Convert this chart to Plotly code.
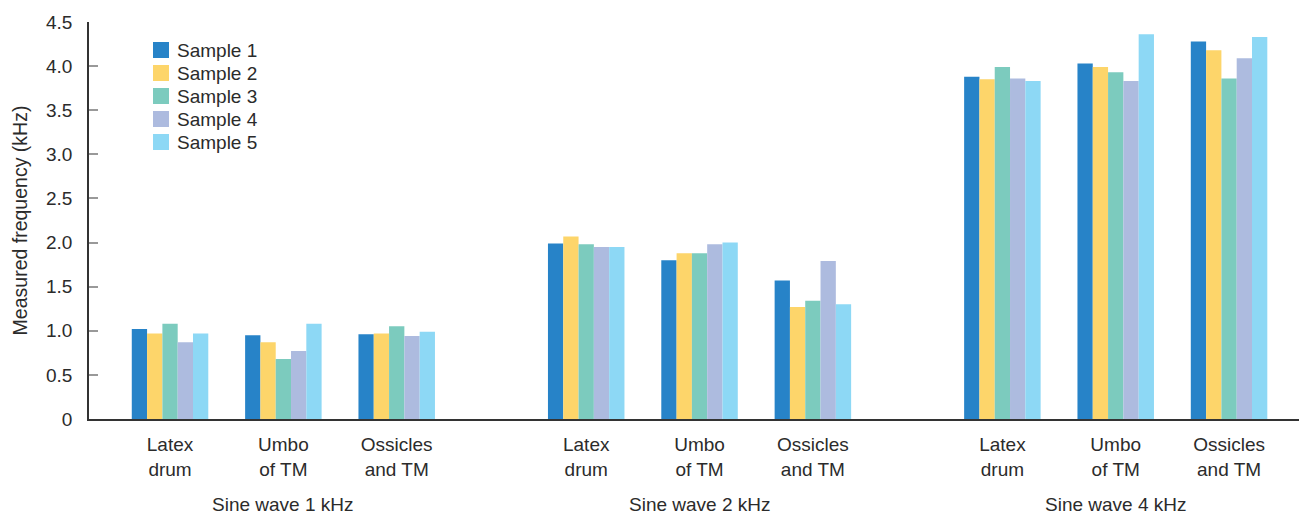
import plotly.graph_objects as go

clusters = ["Latex<br>drum", "Umbo<br>of TM", "Ossicles<br>and TM"] * 3
groups = ["Sine wave 1 kHz", "Sine wave 2 kHz", "Sine wave 4 kHz"]
positions = [0, 1, 2, 3.672, 4.672, 5.672, 7.344, 8.344, 9.344]

series_names = ["Sample 1", "Sample 2", "Sample 3", "Sample 4", "Sample 5"]
sample1 = [1.02, 0.95, 0.96, 1.99, 1.80, 1.57, 3.88, 4.03, 4.28]
sample2 = [0.97, 0.87, 0.97, 2.07, 1.88, 1.27, 3.85, 3.99, 4.18]
sample3 = [1.08, 0.68, 1.05, 1.98, 1.88, 1.34, 3.99, 3.93, 3.86]
sample4 = [0.87, 0.77, 0.94, 1.95, 1.98, 1.79, 3.86, 3.83, 4.09]
sample5 = [0.97, 1.08, 0.99, 1.95, 2.00, 1.30, 3.83, 4.36, 4.33]
colors = ["#2783C8", "#FDD56A", "#7CCBBE", "#ADBBDF", "#8DD8F5"]

y_ticks = [0, 0.5, 1.0, 1.5, 2.0, 2.5, 3.0, 3.5, 4.0, 4.5]
y_ticktext = ["0", "0.5", "1.0", "1.5", "2.0", "2.5", "3.0", "3.5", "4.0", "4.5"]

FONT = "Liberation Sans, Arial, Helvetica, sans-serif"
TXT = "#2b2b2b"
OFF = 8  # page body margin in the browser
W, H = 1307 - OFF, 516 - OFF
ML, MT = 89 - OFF, 22 - OFF
MR, MB = 7, 97
PW, PH = W - ML - MR, H - MT - MB


def px_x(x):  # page pixel -> paper x
    return (x - OFF - ML) / PW


def px_y(y):  # page pixel -> paper y
    return 1 - (y - OFF - MT) / PH


fig = go.Figure()
for name, vals, col in zip(series_names, [sample1, sample2, sample3, sample4, sample5], colors):
    fig.add_trace(go.Bar(x=positions, y=vals, name=name, showlegend=False,
                         marker=dict(color=col, line=dict(width=0))))

# custom legend (compact row spacing as in the reference)
for i, (name, col) in enumerate(zip(series_names, colors)):
    cy = 50 + 23 * i
    fig.add_shape(type="rect", xref="paper", yref="paper",
                  x0=px_x(153), x1=px_x(169), y0=px_y(cy + 8), y1=px_y(cy - 8),
                  fillcolor=col, line=dict(width=0))
    fig.add_annotation(xref="paper", yref="paper", x=px_x(175), y=px_y(cy),
                       text=name, showarrow=False, xanchor="left", yanchor="middle",
                       font=dict(size=19, color=TXT))

fig.update_layout(
    width=W, height=H,
    margin=dict(l=ML, r=MR, t=MT, b=MB),
    barmode="group", bargap=0.325, bargroupgap=0,
    plot_bgcolor="white", paper_bgcolor="white",
    font=dict(family=FONT, size=19, color=TXT),
    showlegend=False,
)
fig.update_xaxes(
    range=[-0.715, 9.97], tickmode="array", tickvals=positions, ticktext=clusters,
    showline=True, linecolor="#333333", linewidth=2, ticks="", showgrid=False,
    zeroline=False, tickfont=dict(size=19, color=TXT), automargin=False,
    ticklabelstandoff=7,
)
fig.update_yaxes(
    range=[0, 4.5], tickmode="array", tickvals=y_ticks, ticktext=y_ticktext,
    showline=True, linecolor="#333333", linewidth=1.5, ticks="inside", ticklen=9,
    tickcolor="#999999", tickwidth=1.5, showgrid=False, zeroline=False,
    title=dict(text="Measured frequency (kHz)", font=dict(size=19.5, color=TXT), standoff=13),
    tickfont=dict(size=19, color=TXT), automargin=False, ticklabelstandoff=11,
)
for i, g in enumerate(groups):
    fig.add_annotation(x=positions[3 * i + 1], y=px_y(505), xref="x", yref="paper",
                       text=g, showarrow=False, font=dict(size=19, color=TXT),
                       yanchor="middle")

fig.write_html("out.html")
